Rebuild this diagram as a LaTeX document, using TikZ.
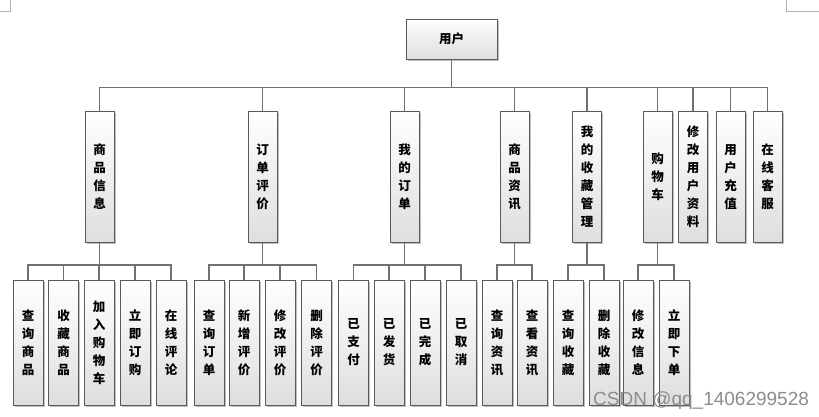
\documentclass[tikz,border=0pt]{standalone}
\usepackage{fontspec}
\newfontfamily\cjk{Noto Sans CJK SC}
\setmainfont{Liberation Sans}
\usetikzlibrary{shadows}
\definecolor{boxline}{HTML}{5A5A5A}
\definecolor{conn}{HTML}{707070}
\begin{document}
\begin{tikzpicture}[x=1pt,y=-1pt,
  box/.style={draw=boxline,line width=0.8pt,top color=white,bottom color=black!13,
    drop shadow={shadow xshift=1.6pt,shadow yshift=-1.6pt,fill=black,opacity=0.25},
    align=center,inner sep=0pt,font={\cjk\bfseries\fontsize{12.5}{18}\selectfont}},
  midbox/.style={box,minimum width=29pt,minimum height=131pt},
  lowbox/.style={box,minimum width=30pt,minimum height=125pt},
  conn/.style={draw=conn,line width=1.2pt},
  cornermark/.style={draw=black!30,line width=0.8pt}]
\useasboundingbox (0,0) rectangle (819,417);
\fill[white] (0,0) rectangle (819,417);
% corner marks
\coordinate (tl1) at (10,0); \coordinate (tl2) at (10,11); \coordinate (tl3) at (0,11);
\draw[cornermark] (tl1) -- (tl2) -- (tl3);
\coordinate (tr1) at (786,0); \coordinate (tr2) at (786,11); \coordinate (tr3) at (819,11);
\draw[cornermark] (tr1) -- (tr2) -- (tr3);
% top
\node[box,minimum width=91pt,minimum height=40pt] (top) at (451.5,39) {用户};
% middle level
\node[midbox] (m1) at (99.5,177) {商\\品\\信\\息};
\node[midbox] (m2) at (262.5,177) {订\\单\\评\\价};
\node[midbox] (m3) at (404.5,177) {我\\的\\订\\单};
\node[midbox] (m4) at (514.5,177) {商\\品\\资\\讯};
\node[midbox] (m5) at (587,177) {我\\的\\收\\藏\\管\\理};
\node[midbox] (m6) at (657.5,177) {购\\物\\车};
\node[midbox] (m7) at (693,177) {修\\改\\用\\户\\资\\料};
\node[midbox] (m8) at (730.5,177) {用\\户\\充\\值};
\node[midbox] (m9) at (767.5,177) {在\\线\\客\\服};
\foreach \m in {m1,m2,m3,m4,m5,m6,m7,m8,m9}
  \draw[conn] (top.south) -- ++(0,28.5) -| (\m.north);
% bottom level
\node[lowbox] (b1) at (28,342.5) {查\\询\\商\\品};
\node[lowbox] (b2) at (63.5,342.5) {收\\藏\\商\\品};
\node[lowbox] (b3) at (99,342.5) {加\\入\\购\\物\\车};
\node[lowbox] (b4) at (135,342.5) {立\\即\\订\\购};
\node[lowbox] (b5) at (171,342.5) {在\\线\\评\\论};
\node[lowbox] (b6) at (209,342.5) {查\\询\\订\\单};
\node[lowbox] (b7) at (244,342.5) {新\\增\\评\\价};
\node[lowbox] (b8) at (280,342.5) {修\\改\\评\\价};
\node[lowbox] (b9) at (316.5,342.5) {删\\除\\评\\价};
\node[lowbox] (b10) at (353.5,342.5) {已\\支\\付};
\node[lowbox] (b11) at (389,342.5) {已\\发\\货};
\node[lowbox] (b12) at (425,342.5) {已\\完\\成};
\node[lowbox] (b13) at (461,342.5) {已\\取\\消};
\node[lowbox] (b14) at (497,342.5) {查\\询\\资\\讯};
\node[lowbox] (b15) at (532,342.5) {查\\看\\资\\讯};
\node[lowbox] (b16) at (568,342.5) {查\\询\\收\\藏};
\node[lowbox] (b17) at (604,342.5) {删\\除\\收\\藏};
\node[lowbox] (b18) at (638,342.5) {修\\改\\信\\息};
\node[lowbox] (b19) at (674,342.5) {立\\即\\下\\单};
\foreach \b in {b1,b2,b3,b4,b5} \draw[conn] (m1.south) -- ++(0,22) -| (\b.north);
\foreach \b in {b6,b7,b8,b9} \draw[conn] (m2.south) -- ++(0,22) -| (\b.north);
\foreach \b in {b10,b11,b12,b13} \draw[conn] (m3.south) -- ++(0,22) -| (\b.north);
\foreach \b in {b14,b15} \draw[conn] (m4.south) -- ++(0,22) -| (\b.north);
\foreach \b in {b16,b17} \draw[conn] (m5.south) -- ++(0,22) -| (\b.north);
\foreach \b in {b18,b19} \draw[conn] (m6.south) -- ++(0,22) -| (\b.north);
% watermark
\node[anchor=base west,inner sep=0pt,text=black!45,font=\fontsize{19}{19}\selectfont] (wm) at (593,405) {CSDN @qq\_1406299528};
\end{tikzpicture}
\end{document}
